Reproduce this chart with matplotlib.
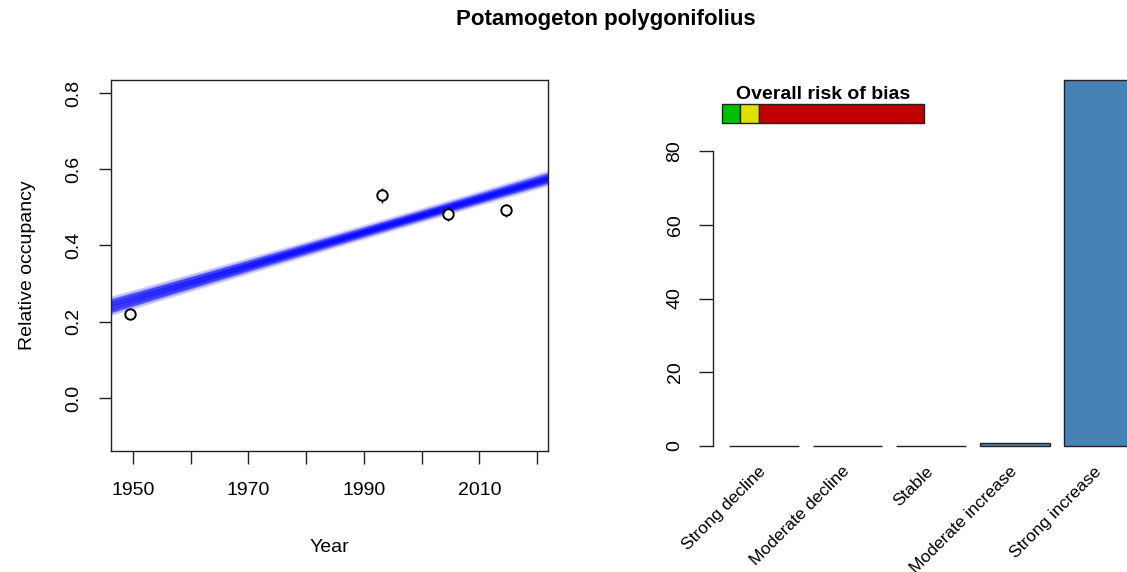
import numpy as np
import matplotlib
matplotlib.use("Agg")
import matplotlib.pyplot as plt

plt.rcParams['font.family'] = ['Liberation Sans', 'DejaVu Sans']

# Survey occupancy estimates
years = [1949.5, 1993.1, 2004.5, 2014.6]
occupancy = [0.220, 0.532, 0.483, 0.492]
occ_err = [0.008, 0.020, 0.018, 0.018]

# Posterior draws of the trend: occupancy at 1985 and change per decade
trend_mid = [0.412, 0.405, 0.418, 0.409, 0.415, 0.402, 0.420, 0.411,
             0.413, 0.408, 0.416, 0.410, 0.414, 0.406, 0.419, 0.412]
trend_slope = [0.0441, 0.0452, 0.0430, 0.0465, 0.0420, 0.0448, 0.0436, 0.0470,
               0.0412, 0.0440, 0.0458, 0.0428, 0.0445, 0.0462, 0.0425, 0.0438]

# Trend class distribution (%)
classes = ["Strong decline", "Moderate decline", "Stable",
           "Moderate increase", "Strong increase"]
class_pct = [0.0, 0.0, 0.0, 0.8, 99.2]

# Risk-of-bias counts: low, moderate, high
bias_counts = [1, 1, 9]
bias_colors = ["#00C000", "#E0E000", "#C00000"]

W, H = 1127, 572
fig = plt.figure(figsize=(W / 100, H / 100), dpi=100)

def fx(px):
    return px / W

def fy(py):
    return 1 - py / H

FS = 14
LINE = "#222222"

# ---- left panel: occupancy trend ----
ax1 = fig.add_axes([fx(111), fy(451), fx(548 - 111), (451 - 80) / H])
ax1.set_xlim(1946.2, 2021.9)
ax1.set_ylim(-0.139, 0.834)

yr = np.array([1940.0, 2030.0])
for m, s in zip(trend_mid, trend_slope):
    ax1.plot(yr, m + s * (yr - 1985) / 10, color=(0, 0, 1), alpha=0.05, lw=7,
             solid_capstyle='butt')
for m, s in zip(trend_mid, trend_slope):
    ax1.plot(yr, m + s * (yr - 1985) / 10, color=(0, 0, 1), alpha=0.15, lw=3.2,
             solid_capstyle='butt')

ax1.errorbar(years, occupancy, yerr=occ_err, fmt='o', ms=7.5, mfc='white',
             mec='black', mew=1.4, ecolor='black', elinewidth=1.0, capsize=0,
             zorder=5)

ax1.set_xticks([1950, 1960, 1970, 1980, 1990, 2000, 2010, 2020])
ax1.set_xticklabels(["1950", "", "1970", "", "1990", "", "2010", ""])
ax1.set_yticks([0.0, 0.2, 0.4, 0.6, 0.8])
ax1.set_yticklabels(["0.0", "0.2", "0.4", "0.6", "0.8"], rotation=90, va='center')
ax1.tick_params(axis='y', length=8.5, width=1.0, color=LINE, labelsize=FS, pad=12)
ax1.tick_params(axis='x', length=9, width=1.0, color=LINE, labelsize=FS, pad=13)
for sp in ax1.spines.values():
    sp.set_linewidth(1.0)
    sp.set_color(LINE)
ax1.set_xlabel("Year", fontsize=FS, labelpad=29)
ax1.set_ylabel("Relative occupancy", fontsize=FS, labelpad=21)

# ---- right panel: trend class distribution ----
unit = 69.75
x0 = 715 - 0.032 * unit
x1 = 715 + 6.232 * unit
ylo, yhi = -4.0, 104.0
ppu = 3.6875
ax2 = fig.add_axes([fx(x0), fy(446 - ylo * ppu), (x1 - x0) / W, (yhi - ylo) * ppu / H])
ax2.set_xlim(-0.032, 6.232)
ax2.set_ylim(ylo, yhi)

pos = [0.7 + 1.2 * i for i in range(len(classes))]
ax2.bar(pos, class_pct, width=1.0, color="#4682B4", edgecolor=LINE, linewidth=1.0)

for k in ['top', 'right', 'bottom']:
    ax2.spines[k].set_visible(False)
ax2.spines['left'].set_bounds(0, 80)
ax2.spines['left'].set_color(LINE)
ax2.spines['left'].set_linewidth(1.0)
ax2.set_yticks([0, 20, 40, 60, 80])
ax2.set_yticklabels(["0", "20", "40", "60", "80"], rotation=90, va='center')
ax2.tick_params(axis='y', length=10, width=1.0, color=LINE, labelsize=FS, pad=11)
ax2.set_xticks(pos)
ax2.set_xticklabels(classes, rotation=45, ha='right', va='center',
                    rotation_mode='anchor', fontsize=12.5)
ax2.tick_params(axis='x', length=0, pad=6)

# risk-of-bias strip
total = sum(bias_counts)
bx0, bx1 = 0.1, 3.0
left = bx0
for c, col in zip(bias_counts, bias_colors):
    w = (bx1 - bx0) * c / total
    ax2.bar(left, 5.0, width=w, bottom=87.7, align='edge', color=col,
            edgecolor=LINE, linewidth=1.0, clip_on=False)
    left += w
ax2.text((bx0 + bx1) / 2, 95.4, "Overall risk of bias", ha='center', va='center',
         fontsize=14, fontweight='bold')

fig.text(fx(606), fy(20), "Potamogeton polygonifolius", ha='center', va='center',
         fontsize=16, fontweight='bold')

fig.savefig("out.png", dpi=100)
